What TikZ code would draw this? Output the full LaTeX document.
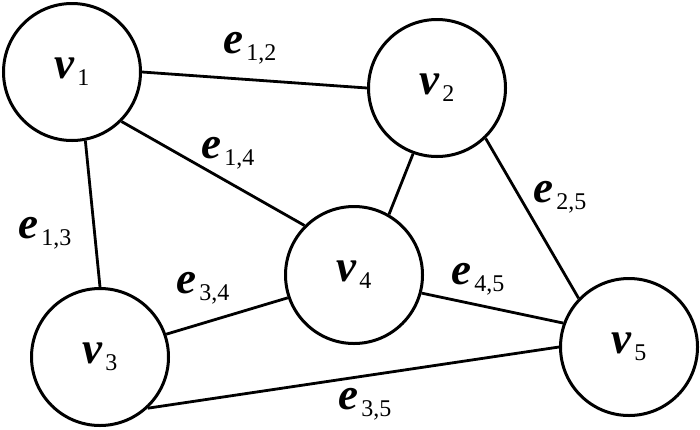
\documentclass[tikz,border=0pt]{standalone}
\usepackage{fontspec}
\setmainfont{Liberation Serif}
\newcommand{\glbl}[2]{{\fontsize{45}{45}\selectfont\bfseries\itshape #1}\hspace{3pt}\raisebox{-7pt}{\fontsize{24}{24}\selectfont #2}}
\begin{document}
\begin{tikzpicture}[x=1pt,y=-1pt,
  vertex/.style={circle,draw,line width=3pt,minimum size=137pt,inner sep=0pt},
  edge/.style={line width=2.8pt},
  elabel/.style={inner sep=0pt}]
\useasboundingbox (0,0) rectangle (700,429);
\node[vertex] (v1) at (72,72) {\glbl{v}{1}};
\node[vertex] (v2) at (437,88) {\glbl{v}{2}};
\node[vertex] (v3) at (100,357) {\glbl{v}{3}};
\node[vertex] (v4) at (354,275) {\glbl{v}{4}};
\node[vertex] (v5) at (629,347) {\glbl{v}{5}};
\draw[edge] (v1.0) -- (v2.180);
\draw[edge] (v1.-79) -- (v3.90);
\draw[edge] (v1.-45) -- (v4.135);
\draw[edge] (v2.-110) -- (v4.60);
\draw[edge] (v2.-46) -- (v5.136);
\draw[edge] (v3.19) -- (v4.199);
\draw[edge] (v3.-47) -- (v5.180);
\draw[edge] (v4.-15) -- (v5.160);
\node[elabel] (e12) at (250,48) {\glbl{e}{1,2}};
\node[elabel] (e14) at (228,153) {\glbl{e}{1,4}};
\node[elabel] (e13) at (45,233) {\glbl{e}{1,3}};
\node[elabel] (e34) at (203,288) {\glbl{e}{3,4}};
\node[elabel] (e25) at (560,197) {\glbl{e}{2,5}};
\node[elabel] (e45) at (478,279) {\glbl{e}{4,5}};
\node[elabel] (e35) at (365,404) {\glbl{e}{3,5}};
\end{tikzpicture}
\end{document}
